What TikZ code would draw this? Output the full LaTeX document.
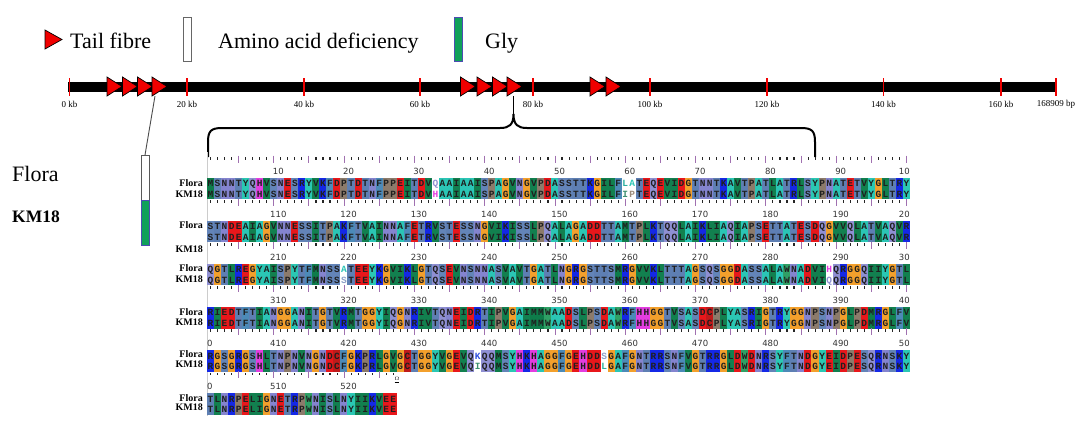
\documentclass[tikz,border=0pt]{standalone}
\usepackage{fontspec}
\setmainfont{Liberation Serif}
\newfontfamily\monofont{Liberation Mono}
\newfontfamily\numfont{DejaVu Sans}
\usetikzlibrary{calc}

% residue background colours
\definecolor{cA}{HTML}{2BC5B5}
\definecolor{cC}{HTML}{C01A1A}
\definecolor{cD}{HTML}{E8171B}
\definecolor{cE}{HTML}{E8171B}
\definecolor{cF}{HTML}{4C8AB8}
\definecolor{cG}{HTML}{F3A02C}
\definecolor{cH}{HTML}{E33DE0}
\definecolor{cI}{HTML}{12804F}
\definecolor{cK}{HTML}{1428E6}
\definecolor{cL}{HTML}{12804F}
\definecolor{cM}{HTML}{0E7C4A}
\definecolor{cN}{HTML}{8484CF}
\definecolor{cP}{HTML}{8C7B6B}
\definecolor{cQ}{HTML}{8F8FD2}
\definecolor{cR}{HTML}{1428E6}
\definecolor{cS}{HTML}{6384B8}
\definecolor{cT}{HTML}{5E7FB3}
\definecolor{cV}{HTML}{12804F}
\definecolor{cW}{HTML}{2FA065}
\definecolor{cY}{HTML}{2BC7B3}
% mismatch letter colours
\definecolor{mq}{HTML}{8F8FD2}
\definecolor{mh}{HTML}{E33DE0}
\definecolor{ml}{HTML}{2BAF9F}
\definecolor{ma}{HTML}{2BC5B5}
\definecolor{mi}{HTML}{3D9070}
\definecolor{mp}{HTML}{9C8C7C}
\definecolor{ms}{HTML}{8CA0C8}
\definecolor{mk}{HTML}{3050E0}
\definecolor{tailred}{HTML}{F00000}
\definecolor{glygreen}{HTML}{10A05A}
\definecolor{tickpurple}{HTML}{A070B0}

\tikzset{
  cell/.style={minimum width=7.25pt, minimum height=10.75pt, inner sep=0pt, outer sep=0pt,
    text height=6.6pt, text depth=0pt,
    font=\monofont\bfseries\fontsize{9.5}{9.5}\selectfont, text=black!88},
  res/.style={fill=c#1},
  mis/.style={fill=white, text=m#1},
  rtick/.style={draw=tickpurple, line width=0.9pt},
  numlab/.style={font=\numfont\fontsize{8.5}{8.5}\selectfont, text=black!80, inner sep=0pt},
  seqname/.style={font=\bfseries\fontsize{10}{10}\selectfont, anchor=east, inner sep=0pt},
  kblab/.style={font=\fontsize{9}{9}\selectfont, inner sep=0pt},
  redtick/.style={draw=tailred, line width=1.6pt},
  tri/.style={fill=tailred, draw=black, line width=0.7pt, line join=miter},
  legtext/.style={font=\fontsize{22}{22}\selectfont, anchor=base west, inner sep=0pt},
  bracestyle/.style={draw=black, line width=2pt},
}

\newcount\rc
\def\SeqRow#1#2#3{\rc=0 \def\rowtop{#2}\def\rowpref{#1}\SeqLoop#3\relax}
\def\SeqLoop#1{\ifx#1\relax\let\next\relax\else\def\next{\SeqCell#1\SeqLoop}\fi\next}
\def\SeqCell#1{%
  \advance\rc by 1
  \pgfmathsetmacro\cx{207+(\the\rc-0.5)*7.03}%
  \ifnum`#1>96
    \node[cell,mis=#1] (\rowpref\the\rc) at (\cx,\rowtop+5.3) {\uppercase{#1}};
  \else
    \node[cell,res=#1] (\rowpref\the\rc) at (\cx,\rowtop+5.3) {#1};
  \fi}

\def\Ruler#1#2#3{%
  \foreach \i in {1,...,#2}{%
    \pgfmathsetmacro\tx{207+(\i-0.5)*7.03}%
    \pgfmathtruncatemacro\m{mod(\i,5)}%
    \ifnum\m=0
      \draw[rtick] (\tx,#1-22.5) -- (\tx,#1-15.5);
    \else
      \fill[black!85] (\tx-0.55,#1-21) rectangle (\tx+0.55,#1-18.3);
    \fi
  }%
  \pgfmathtruncatemacro\nlab{(#2-1)/10}%
  \foreach \j in {1,...,\nlab}{%
    \pgfmathtruncatemacro\lv{#3+10*\j}%
    \pgfmathsetmacro\lx{207+10*\j*7.03+1}%
    \node[numlab] (lab\lv) at (\lx,#1-7) {\lv};
  }}

\begin{document}
\begin{tikzpicture}[x=1pt,y=-1pt]
\fill[white] (0,0) rectangle (1084,429);
\useasboundingbox (0,0) rectangle (1084,429);

% ---------- legend ----------
\draw[tri] (45,30) -- (45,49) -- (62,39.5) -- cycle;
\node[legtext] (legtail) at (70,48) {Tail fibre};
\node[draw=gray!80!black, fill=white, line width=0.8pt, minimum width=8pt, minimum height=44pt, inner sep=0pt] (legaa) at (187,39) {};
\node[legtext] (legaatext) at (218,48) {Amino acid deficiency};
\node[draw=blue!40!gray, fill=glygreen, line width=0.8pt, minimum width=8pt, minimum height=44pt, inner sep=0pt] (leggly) at (458,39) {};
\node[legtext] (leggltext) at (485,48) {Gly};

% ---------- genome bar ----------
\fill[black] (68,82) rectangle (1056,91.5);
\foreach \x/\t in {69.5/0 kb,187/20 kb,304/40 kb,420/60 kb,533/80 kb,650/100 kb,767/120 kb,883.5/140 kb,1001/160 kb,1056/168909 bp}{
  \draw[redtick] (\x,78) -- (\x,95.5);
  \node[kblab] at (\x,104) {\t};
}
% tail fibre triangles
\foreach \x [count=\n] in {107,122.5,137.5,152,460.5,477,492.5,507,590,606}{
  \draw[tri] (\x,77) -- (\x,96) -- (\x+15,86.5) -- cycle;
  \coordinate (tf\n) at (\x+3,96);
}

% ---------- connector to Flora bar ----------
\node[draw=gray!70!black, fill=white, line width=0.8pt, minimum width=8pt, minimum height=45pt, inner sep=0pt, anchor=north] (florabar) at (145,155) {};
\node[draw=blue!40!gray, fill=glygreen, line width=0.8pt, minimum width=8pt, minimum height=45pt, inner sep=0pt, anchor=north] (km18bar) at (145,200) {};
\draw[gray!60!black, line width=0.9pt] (tf4) -- (florabar.north);

\node[font=\fontsize{22}{22}\selectfont, anchor=west, inner sep=0pt] (floramain) at (12,174) {Flora};
\node[font=\bfseries\fontsize{17.5}{17.5}\selectfont, anchor=west, inner sep=0pt] (km18main) at (12,217) {KM18};

% ---------- bracket ----------
\coordinate (brL) at (208,157);
\coordinate (brR) at (815,157);
\coordinate (brT) at (513.5,114);
\coordinate (tfc) at (513.5,96);
\draw[bracestyle] (brL) -- (208,142) .. controls (208,131) and (211,128) .. (222,128) -- (500,128) .. controls (509,128) and (513.5,125) .. (brT) .. controls (513.5,125) and (518,128) .. (527,128) -- (801,128) .. controls (812,128) and (815,131) .. (815,142) -- (brR);
\draw[black, line width=0.9pt] (brT) -- (tfc);

\draw[gray!40, line width=0.8pt] (207,152) -- (207,416);

% ---------- alignment ----------
% row 1
\Ruler{178}{100}{0}
\node[numlab, anchor=east] (lab100) at (910,171) {10};
\SeqRow{fa}{178}{MSNNTYQHVSNESRYVKFDPTDTNFPPEITDVqAAIAAISPAGVNGVPDASSTTKGILFlaTEQEVIDGTNNTKAVTPATLATRLSYPNATETVYGLTRY}
\SeqRow{ka}{188.6}{MSNNTYQHVSNESRYVKFDPTDTNFPPEITDVhAAIAAISPAGVNGVPDASSTTKGILFipTEQEVIDGTNNTKAVTPATLATRLSYPNATETVYGLTRY}
\node[seqname] (fn1) at (203,183.5) {Flora};
\node[seqname] (kn1) at (203,193.8) {KM18};

% row 2
\Ruler{221.1}{100}{100}
\node[numlab, anchor=east] (lab200) at (910,214.1) {20};
\SeqRow{fb}{221.1}{STNDEAIAGVNNESSITPAKFTVAINNAFETRVSTESSNGVIKISSLPQALAGADDTTAMTPLKTQQLAIKLIAQIAPSETTATESDQGVVQLATVAQVR}
\SeqRow{kb}{231.7}{STNDEAIAGVNNESSITPAKFTVAINNAFETRVSTESSNGVIKISSLPQALAGADDTTAMTPLKTQQLAIKLIAQIAPSETTATESDQGVVQLATVAQVR}
\node[seqname] (fn2) at (203,225.5) {Flora};
\node[seqname] (kn2) at (203,249.5) {KM18};

% row 3
\Ruler{264.2}{100}{200}
\node[numlab, anchor=east] (lab300) at (910,257.2) {30};
\SeqRow{fc}{264.2}{QGTLREGYAISPYTFMNSSaTEEYKGVIKLGTQSEVNSNNASVAVTGATLNGRGSTTSMRGVVKLTTTAGSQSGGDASSALAWNADVIhQRGGQIIYGTL}
\SeqRow{kc}{274.8}{QGTLREGYAISPYTFMNSSsTEEYKGVIKLGTQSEVNSNNASVAVTGATLNGRGSTTSMRGVVKLTTTAGSQSGGDASSALAWNADVIqQRGGQIIYGTL}
\node[seqname] (fn3) at (203,268.5) {Flora};
\node[seqname] (kn3) at (203,279) {KM18};

% row 4
\Ruler{307.3}{100}{300}
\node[numlab, anchor=east] (lab400) at (910,300.3) {40};
\SeqRow{fd}{307.3}{RIEDTFTIANGGANITGTVRMTGGYIQGNRIVTQNEIDRTIPVGAIMMWAADSLPSDAWRFHHGGTVSASDCPLYASRIGTRYGGNPSNPGLPDMRGLFV}
\SeqRow{kd}{317.9}{RIEDTFTIANGGANITGTVRMTGGYIQGNRIVTQNEIDRTIPVGAIMMWAADSLPSDAWRFHHGGTVSASDCPLYASRIGTRYGGNPSNPGLPDMRGLFV}
\node[seqname] (fn4) at (203,311.8) {Flora};
\node[seqname] (kn4) at (203,321.8) {KM18};

% row 5
\Ruler{350.4}{100}{400}
\node[numlab, anchor=west] (lab400b) at (207,343.4) {0};
\node[numlab, anchor=east] (lab500) at (910,343.4) {50};
\SeqRow{fe}{350.4}{RGSGRGSHLTNPNVNGNDCFGKPRLGVGCTGGYVGEVQkQQMSYHKHAGGFGEHDDsGAFGNTRRSNFVGTRRGLDWDNRSYFTNDGYEIDPESQRNSKY}
\SeqRow{ke}{361}{RGSGRGSHLTNPNVNGNDCFGKPRLGVGCTGGYVGEVQiQQMSYHKHAGGFGEHDDlGAFGNTRRSNFVGTRRGLDWDNRSYFTNDGYEIDPESQRNSKY}
\node[seqname] (fn5) at (203,354.5) {Flora};
\node[seqname] (kn5) at (203,364) {KM18};

% row 6
\Ruler{393.5}{27}{500}
\node[numlab, anchor=west] (lab500b) at (207,386.5) {0};
\node[font=\fontsize{5}{5}\selectfont, inner sep=0pt] (endmark) at (397,380) {$\underline{\Omega}$};
\SeqRow{ff}{393.5}{TLNRPELIGNETRPWNISLNYIIKVEE}
\SeqRow{kf}{404.1}{TLNRPELIGNETRPWNISLNYIIKVEE}
\node[seqname] (fn6) at (203,398) {Flora};
\node[seqname] (kn6) at (203,407.5) {KM18};

\end{tikzpicture}
\end{document}
